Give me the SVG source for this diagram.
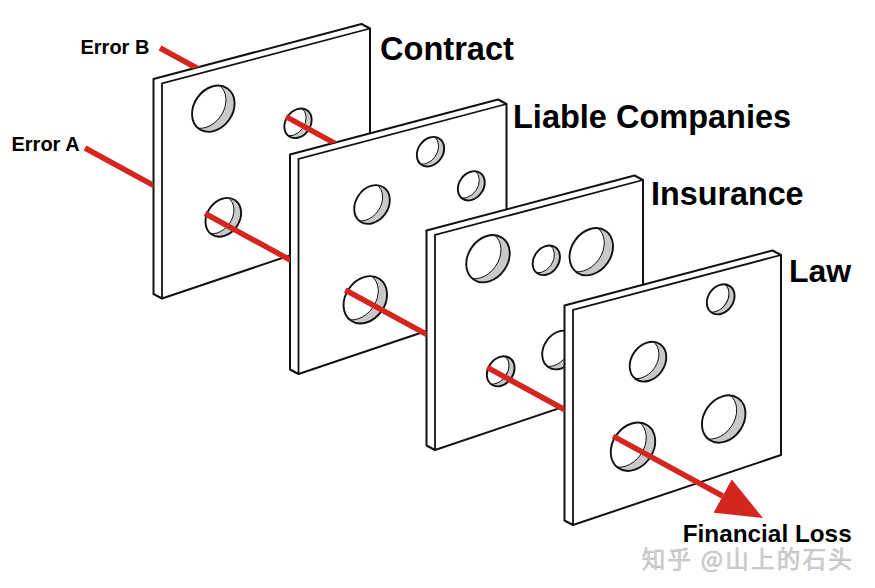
<svg xmlns="http://www.w3.org/2000/svg" xmlns:xlink="http://www.w3.org/1999/xlink" width="875" height="588" viewBox="0 0 875 588">
<style>
.plate{fill:#fff;stroke:#111;stroke-width:2;stroke-linejoin:round}
.edge{fill:none;stroke:#111;stroke-width:1.8}
.lbl{font-family:"Liberation Sans",Arial,sans-serif;font-weight:bold;fill:#000}
.ray{stroke:#d4261f;stroke-width:5.5;fill:none}
.wm{font-family:"Noto Sans CJK SC","Noto Sans",sans-serif;fill:#d2d2d2;stroke:#bdbdbd;stroke-width:0.6}
</style>
<defs>
<clipPath id="hc"><ellipse cx="0" cy="0" rx="9" ry="11.5" transform="rotate(35)"/></clipPath>
<g id="hole">
<ellipse rx="9" ry="11.5" transform="rotate(35)" fill="#c9c9c9"/>
<g clip-path="url(#hc)"><ellipse rx="9" ry="11.5" transform="translate(-4,-1.6) rotate(35)" fill="#fff" stroke="#111" stroke-width="1" vector-effect="non-scaling-stroke"/></g>
<ellipse rx="9" ry="11.5" transform="rotate(35)" fill="none" stroke="#111" stroke-width="1.9" vector-effect="non-scaling-stroke"/>
</g>
<clipPath id="notP1"><path clip-rule="evenodd" d="M0 0H875V588H0Z M153.5 79L361.5 24L370 28.5L370 228.5L162 298.5L153.5 294Z"/></clipPath>
<clipPath id="notP2"><path clip-rule="evenodd" d="M0 0H875V588H0Z M290 154.5L498 99.5L506.5 104L506.5 304L298.5 374L290 369.5Z"/></clipPath>
<clipPath id="notP3"><path clip-rule="evenodd" d="M0 0H875V588H0Z M426.5 230.5L634.5 175.5L643 180L643 380L435 450L426.5 445.5Z"/></clipPath>
<clipPath id="notP4"><path clip-rule="evenodd" d="M0 0H875V588H0Z M564.5 305.5L772.5 250.5L781 255L781 455L573 525L564.5 520.5Z"/></clipPath>
<marker id="head" markerUnits="userSpaceOnUse" viewBox="0 -19 46 38" refX="0" refY="0" markerWidth="46" markerHeight="38" orient="auto">
<path d="M0,-19 L46,0 L0,19 Z" fill="#d4261f"/>
</marker>
</defs>
<rect width="875" height="588" fill="#fff"/>

<g id="plate-contract">
<polygon class="plate" points="153.5,79 361.5,24 370,28.5 370,228.5 162,298.5 153.5,294"/>
<polyline class="edge" points="162,298.5 162,83.5 370,28.5"/>
<use href="#hole" transform="translate(213.3,108.7) scale(2.15)"/>
<use href="#hole" transform="translate(298,123.3) scale(1.38)"/>
<use href="#hole" transform="translate(223.3,217.3) scale(1.8)"/>
<text class="lbl" x="380" y="60" font-size="32.6">Contract</text>
</g>

<g id="plate-liable">
<polygon class="plate" points="290,154.5 498,99.5 506.5,104 506.5,304 298.5,374 290,369.5"/>
<polyline class="edge" points="298.5,374 298.5,159 506.5,104"/>
<use href="#hole" transform="translate(430.5,151.7) scale(1.38)"/>
<use href="#hole" transform="translate(471.3,185.8) scale(1.36)"/>
<use href="#hole" transform="translate(372,204.5) scale(1.8)"/>
<use href="#hole" transform="translate(365.3,299.8) scale(2.2)"/>
<text class="lbl" x="513" y="127.5" font-size="32.5">Liable Companies</text>
</g>

<g id="plate-insurance">
<polygon class="plate" points="426.5,230.5 634.5,175.5 643,180 643,380 435,450 426.5,445.5"/>
<polyline class="edge" points="435,450 435,235 643,180"/>
<use href="#hole" transform="translate(488,258.7) scale(2.2)"/>
<use href="#hole" transform="translate(546.3,260.3) scale(1.38)"/>
<use href="#hole" transform="translate(591.3,251.7) scale(2.2)"/>
<use href="#hole" transform="translate(560,350) scale(1.8)"/>
<use href="#hole" transform="translate(500.7,371.3) scale(1.4)"/>
<text class="lbl" x="651" y="205" font-size="32.3">Insurance</text>
</g>

<g id="plate-law">
<polygon class="plate" points="564.5,305.5 772.5,250.5 781,255 781,455 573,525 564.5,520.5"/>
<polyline class="edge" points="573,525 573,310 781,255"/>
<use href="#hole" transform="translate(720.7,299.3) scale(1.4)"/>
<use href="#hole" transform="translate(648,361.7) scale(1.85)"/>
<use href="#hole" transform="translate(723.7,419) scale(2.2)"/>
<use href="#hole" transform="translate(633,446.7) scale(2.25)"/>
<text class="lbl" x="789" y="281.7" font-size="32">Law</text>
</g>

<g id="error-b"><text class="lbl" x="80.5" y="54" font-size="20">Error B</text></g>
<g id="error-a"><text class="lbl" x="11.5" y="150.7" font-size="20">Error A</text></g>
<g id="financial-loss"><text class="lbl" x="682.7" y="541.5" font-size="24" textLength="169" lengthAdjust="spacingAndGlyphs">Financial Loss</text></g>

<g id="connectors">
<line class="ray" x1="85" y1="148" x2="175" y2="197.1" clip-path="url(#notP1)"/>
<line class="ray" x1="205" y1="213.5" x2="315" y2="273.5" clip-path="url(#notP2)"/>
<line class="ray" x1="345.3" y1="290" x2="450" y2="347.1" clip-path="url(#notP3)"/>
<line class="ray" x1="487.2" y1="367.4" x2="590" y2="423.5" clip-path="url(#notP4)"/>
<line class="ray" x1="613.1" y1="436.1" x2="722.6" y2="496" marker-end="url(#head)"/>
<line class="ray" x1="160" y1="48" x2="215" y2="78" clip-path="url(#notP1)"/>
<line class="ray" x1="286" y1="116.7" x2="350" y2="151.6" clip-path="url(#notP2)"/>
</g>

<g id="watermark"><text class="wm" x="641.7" y="568" font-size="23.5" textLength="210">知乎 @山上的石头</text></g>
</svg>
